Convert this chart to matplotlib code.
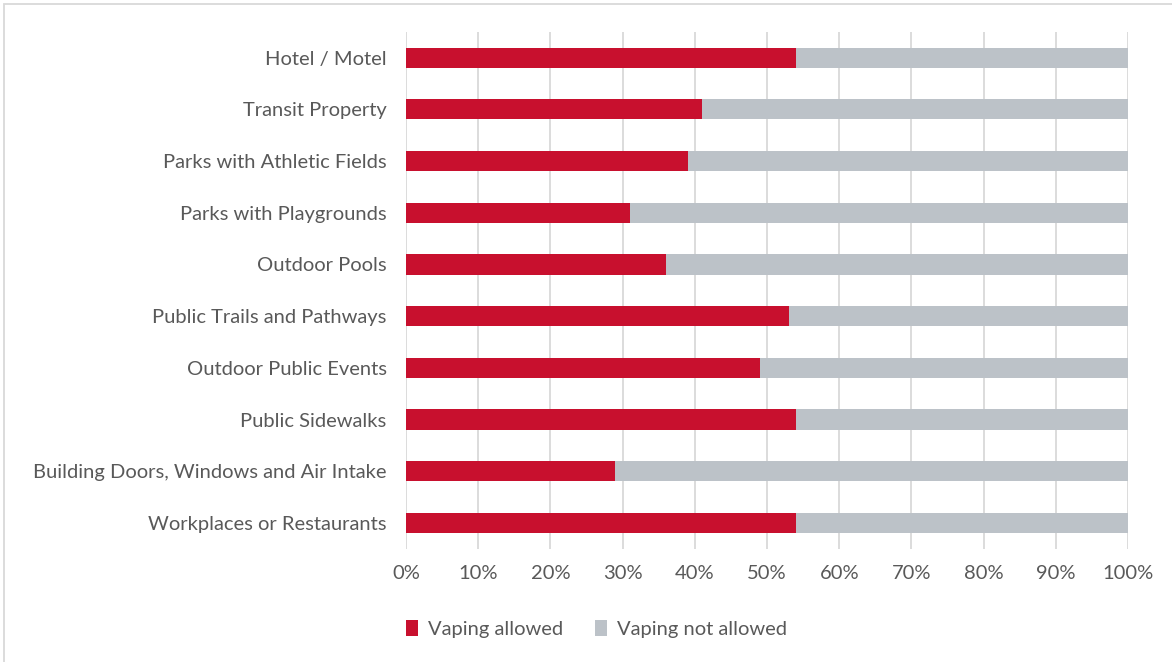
import matplotlib
matplotlib.use('Agg')
import matplotlib.pyplot as plt
from matplotlib.patches import Rectangle
from matplotlib.ticker import PercentFormatter
import numpy as np

categories = [
    'Hotel / Motel',
    'Transit Property',
    'Parks with Athletic Fields',
    'Parks with Playgrounds',
    'Outdoor Pools',
    'Public Trails and Pathways',
    'Outdoor Public Events',
    'Public Sidewalks',
    'Building Doors, Windows and Air Intake',
    'Workplaces or Restaurants',
]
allowed = [54, 41, 39, 31, 36, 53, 49, 54, 29, 54]
not_allowed = [100 - v for v in allowed]
series_names = ['Vaping allowed', 'Vaping not allowed']

RED = '#C8102E'
GREY = '#BCC2C8'
TEXT = '#595959'

plt.rcParams['font.family'] = ['Lato', 'DejaVu Sans']

fig = plt.figure(figsize=(11.72, 6.62), dpi=100)
ax = fig.add_axes([0.3464, 0.171, 0.6161, 0.781])

y = np.arange(len(categories))
ax.barh(y, allowed, height=0.39, color=RED, label=series_names[0], zorder=3)
ax.barh(y, not_allowed, left=allowed, height=0.39, color=GREY,
        label=series_names[1], zorder=3)

ax.set_xlim(0, 100)
ax.set_ylim(len(categories) - 0.5, -0.5)
ax.set_xticks(np.arange(0, 101, 10))
ax.xaxis.set_major_formatter(PercentFormatter(decimals=0))
ax.set_yticks(y)
ax.set_yticklabels(categories)
ax.tick_params(axis='both', length=0, labelsize=14.5, colors=TEXT)
ax.tick_params(axis='x', pad=12)
ax.tick_params(axis='y', pad=14)
ax.grid(axis='x', color='#D9D9D9', linewidth=1.3, zorder=0)
for s in ax.spines.values():
    s.set_visible(False)

leg = fig.legend(loc='center', bbox_to_anchor=(0.509, 0.05), ncol=2, frameon=False,
                 fontsize=14.5, handlelength=0.6, handleheight=0.9,
                 handletextpad=0.5, columnspacing=1.6)
for t in leg.get_texts():
    t.set_color(TEXT)

# outer chart border
fig.add_artist(Rectangle((4 / 1172, -0.01), 1.0, 1.0 - 4 / 662 + 0.01,
                         transform=fig.transFigure, fill=False,
                         edgecolor='#D9D9D9', linewidth=1.3))

fig.savefig('out.png', dpi=100)
